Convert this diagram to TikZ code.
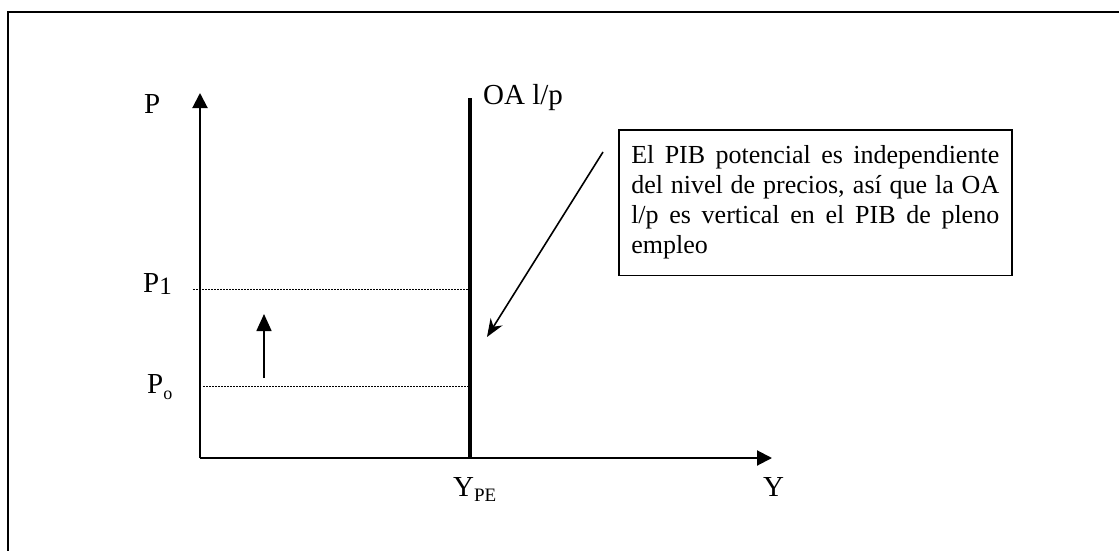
\documentclass[tikz,border=0pt]{standalone}
\usepackage{fontspec}
\setmainfont{Liberation Serif}
\usetikzlibrary{arrows.meta}
\newcommand{\lbl}{\fontsize{29}{32}\selectfont}
\newcommand{\boxfont}{\fontsize{26}{30}\selectfont}
\newcommand{\subsa}[1]{\raisebox{-2pt}{\fontsize{25}{25}\selectfont #1}}
\newcommand{\subsb}[1]{\raisebox{-6pt}{\fontsize{18}{18}\selectfont #1}}
\newcommand{\subsm}[1]{\raisebox{-5pt}{\fontsize{19}{19}\selectfont #1}}
\newcommand{\jline}[1]{\makebox[368pt][s]{\spaceskip=0pt\relax #1}}
\tikzset{
  frameline/.style={line width=2pt},
  axisline/.style={line width=2pt,-{Triangle[length=15pt,width=15pt]}},
  oaline/.style={line width=3.5pt},
  guide/.style={line width=1pt,dash pattern=on 1.5pt off 1.5pt},
  uparrow/.style={line width=1.6pt,-{Triangle[length=17pt,width=15pt]}},
  callout/.style={line width=1.6pt,-{Stealth[length=18pt,width=14pt]}},
  lab/.style={inner sep=0pt,font=\lbl},
  notebox/.style={draw,line width=1.5pt,inner xsep=12.5pt,inner ysep=16pt,text width=368pt,align=justify,font=\boxfont}
}
\begin{document}
\begin{tikzpicture}[x=1pt,y=-1pt]
\useasboundingbox (0,0) rectangle (1119,551);
% frame
\coordinate (ftr) at (1120,12);
\coordinate (ftl) at (8,12);
\coordinate (fbl) at (8,552);
\draw[frameline] (ftr) -- (ftl) -- (fbl);
% axes
\coordinate (O) at (200,458);
\coordinate (ytip) at (200,93);
\coordinate (xtip) at (772,458);
\draw[axisline] (O) -- (ytip);
\draw[axisline] (O) -- (xtip);
% OA line
\coordinate (oatop) at (470,98);
\coordinate (oabot) at (470,458);
\draw[oaline] (oabot) -- (oatop);
% guides
\coordinate (p1s) at (193,289);
\coordinate (p1e) at (468,289);
\coordinate (p0s) at (203,386);
\coordinate (p0e) at (468,386);
\draw[guide] (p1s) -- (p1e);
\draw[guide] (p0s) -- (p0e);
% small arrow
\coordinate (ua0) at (264,378);
\coordinate (ua1) at (264,314);
\draw[uparrow] (ua0) -- (ua1);
% labels
\node[lab,anchor=base west] (P) at (144,113) {P};
\node[lab,anchor=base west] (P1) at (143,292) {P\subsa{1}};
\node[lab,anchor=base west] (P0) at (147,393) {P\subsb{o}};
\node[lab,anchor=base west] (OA) at (483,104) {OA l/p};
\node[lab,anchor=base west] (YPE) at (453,496) {Y\subsm{PE}};
\node[lab,anchor=base west] (Y) at (763,496) {Y};
% note box
\node[notebox,anchor=north west] (note) at (618,129) {%
\jline{El PIB potencial es independiente}\\
\jline{del nivel de precios, así que la OA}\\
\jline{l/p es vertical en el PIB de pleno}\\
empleo};
\coordinate (cs) at (603,152);
\coordinate (ct) at (487,337);
\draw[callout] (cs) -- (ct);
\end{tikzpicture}
\end{document}
